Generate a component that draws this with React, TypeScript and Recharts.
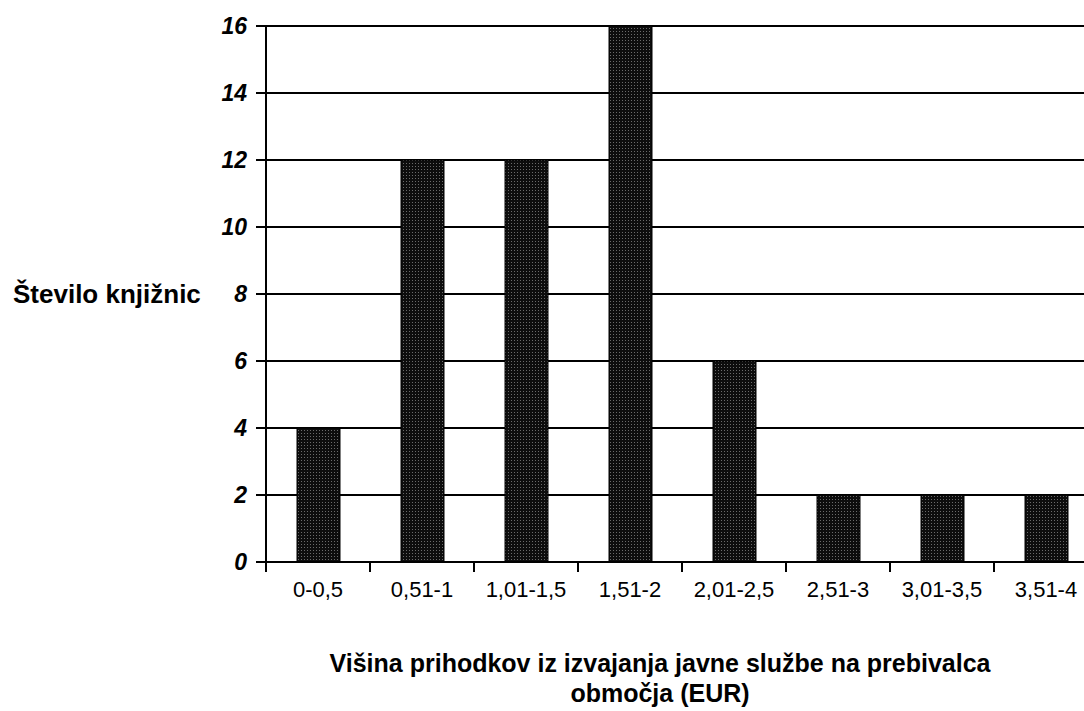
import { Bar, BarChart, CartesianGrid, XAxis, YAxis } from "recharts"

const categories = [
  "0-0,5",
  "0,51-1",
  "1,01-1,5",
  "1,51-2",
  "2,01-2,5",
  "2,51-3",
  "3,01-3,5",
  "3,51-4",
]
const libraryCounts = [4, 12, 12, 16, 6, 2, 2, 2]
const yTicks = [0, 2, 4, 6, 8, 10, 12, 14, 16]

const data = categories.map((name, i) => ({ name, value: libraryCounts[i] }))

const FONT = "'Liberation Sans', Arial, sans-serif"

function CategoryTick(props: any) {
  const { x, y, payload } = props
  const off = payload?.offset ?? 52
  return (
    <g>
      <line x1={x - off} y1={y} x2={x - off} y2={y + 10} stroke="#000" strokeWidth={2} />
      <text
        x={x}
        y={y + 35}
        textAnchor="middle"
        fontFamily={FONT}
        fontSize={22}
        fill="#000"
      >
        {payload.value}
      </text>
    </g>
  )
}

export default function App() {
  return (
    <div
      style={{
        position: "absolute",
        left: 0,
        top: 0,
        width: 1084,
        height: 711,
        overflow: "hidden",
        background: "#fff",
        fontFamily: FONT,
      }}
    >
      <BarChart
        width={1100}
        height={711}
        data={data}
        margin={{ top: 26, right: 2, left: 0, bottom: 89 }}
      >
        <defs>
          <pattern id="dots" width="3" height="3" patternUnits="userSpaceOnUse">
            <rect width="3" height="3" fill="#0d0d0d" />
            <rect x="1" y="1" width="1" height="1" fill="#6a6a6a" />
          </pattern>
        </defs>
        <CartesianGrid vertical={false} stroke="#000" strokeWidth={2} />
        <XAxis
          dataKey="name"
          height={60}
          axisLine={{ stroke: "#000", strokeWidth: 2 }}
          tickLine={false}
          tickSize={0}
          tickMargin={0}
          interval={0}
          tick={<CategoryTick />}
        />
        <YAxis
          width={266}
          domain={[0, 16]}
          ticks={yTicks}
          interval={0}
          axisLine={{ stroke: "#000", strokeWidth: 2 }}
          tickLine={{ stroke: "#000", strokeWidth: 2 }}
          tickSize={10}
          tickMargin={9}
          tick={{
            fill: "#000",
            fontSize: 23,
            fontWeight: "bold",
            fontStyle: "italic",
            fontFamily: FONT,
          }}
          label={{
            value: "Število knjižnic",
            position: "insideLeft",
            offset: 13,
            fill: "#000",
            fontSize: 26,
            fontWeight: "bold",
            fontFamily: FONT,
          }}
        />
        <Bar
          dataKey="value"
          fill="url(#dots)"
          stroke="#000"
          strokeWidth={1}
          barSize={43}
          isAnimationActive={false}
        />
      </BarChart>
      <div
        style={{
          position: "absolute",
          left: 260,
          width: 800,
          top: 648,
          textAlign: "center",
          fontSize: 25,
          fontWeight: "bold",
          lineHeight: "30px",
          color: "#000",
        }}
      >
        Višina prihodkov iz izvajanja javne službe na prebivalca
        <br />
        območja (EUR)
      </div>
    </div>
  )
}
